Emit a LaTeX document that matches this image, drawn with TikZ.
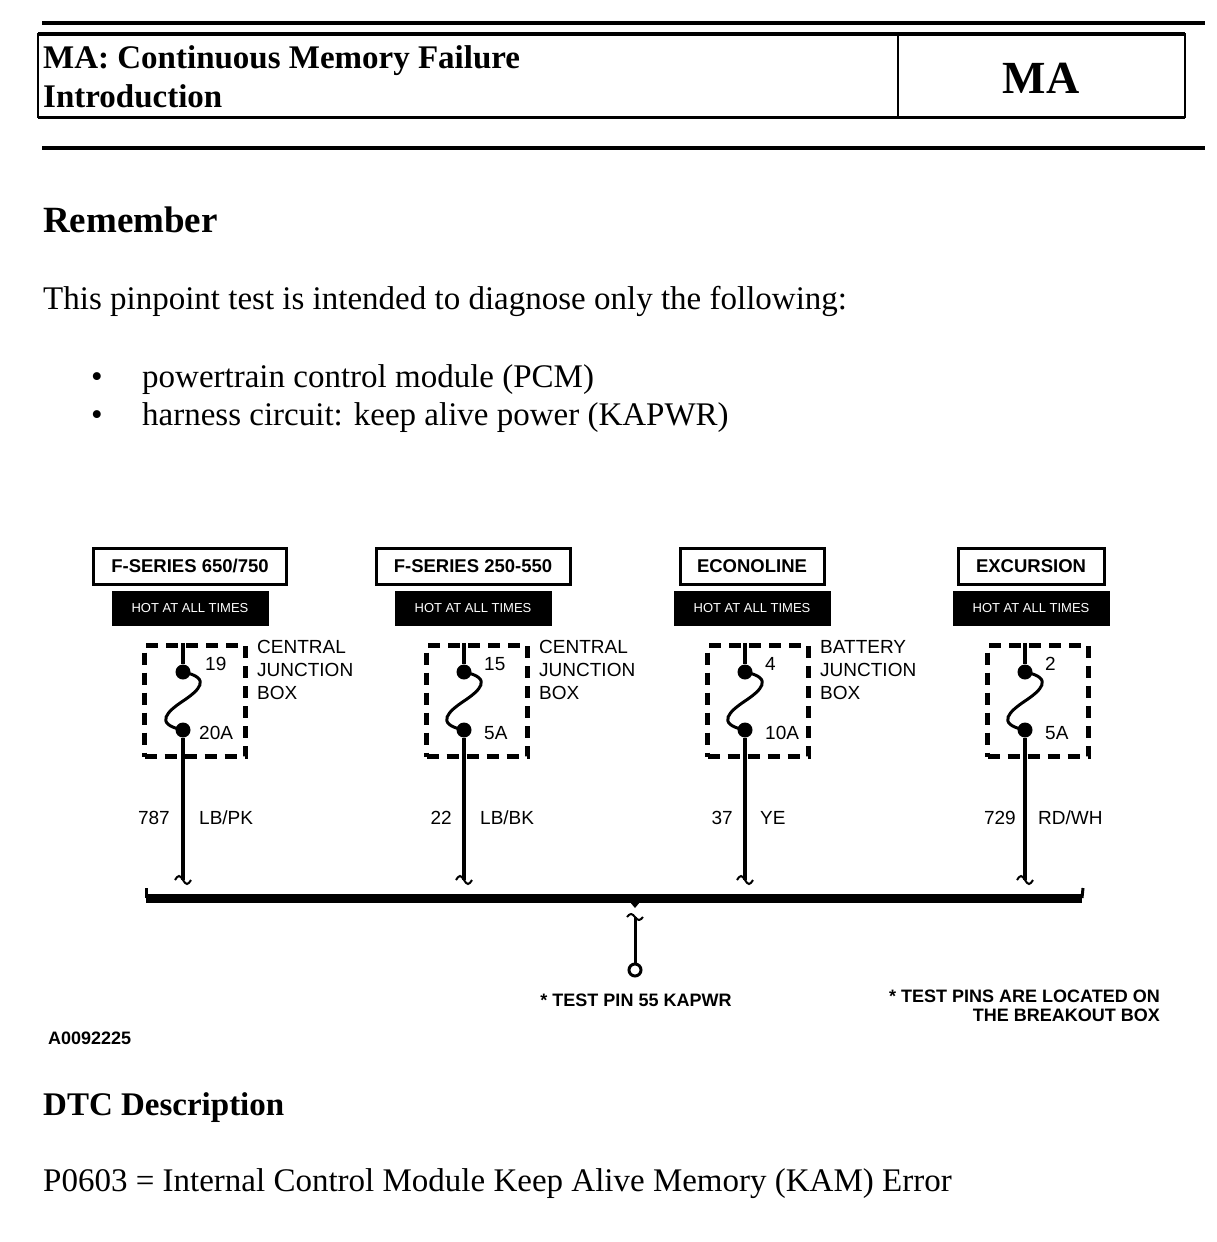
\documentclass[tikz,border=0pt]{standalone}
\usepackage{fontspec}
\setmainfont{Liberation Serif}
\setsansfont{Liberation Sans}
\usetikzlibrary{positioning}

\begin{document}
\begin{tikzpicture}[
    x=1pt, y=-1pt,
    node distance=5pt,
    model/.style={draw, line width=3pt, inner sep=0pt, minimum height=36pt,
        font=\sffamily\bfseries\fontsize{18.5}{20}\selectfont},
    hot/.style={fill=black, text=white, inner sep=0pt, minimum width=157pt, minimum height=35pt,
        font=\sffamily\fontsize{13}{14}\selectfont},
    jbox/.style={draw, dash pattern=on 12pt off 8pt, line width=5pt,
        minimum width=101pt, minimum height=111pt},
    wire/.style={draw, line width=4pt},
    fuse/.style={draw, line width=3pt},
    brk/.style={draw, line width=2pt},
    fusedot/.style={circle, fill=black, minimum size=15pt, inner sep=0pt},
    lbl/.style={font=\sffamily\fontsize{19}{23}\selectfont, inner sep=0pt},
    heading/.style={font=\bfseries\fontsize{33}{38}\selectfont, anchor=base west, inner sep=0pt},
    body/.style={font=\fontsize{33}{38}\selectfont, anchor=base west, inner sep=0pt},
    note/.style={font=\sffamily\bfseries\fontsize{18}{19}\selectfont, inner sep=0pt}
]
    \useasboundingbox[fill=white] (0,0) rectangle (1216,1242);

    % page header
    \draw[line width=4pt] (42,23) -- (1205,23);
    \draw[line width=2pt] (38,34) rectangle (1185,117);
    \draw[line width=4pt] (38,34) -- (1185,34);
    \draw[line width=3pt] (38,117) -- (1185,117);
    \draw[line width=2pt] (898,34) -- (898,117);
    \draw[line width=4pt] (42,148) -- (1205,148);
    \node[heading] (title) at (43,68) {MA: Continuous Memory Failure};
    \node[heading] (intro) at (43,107) {Introduction};
    \node[font=\bfseries\fontsize{46}{50}\selectfont] (tag) at (1041,78) {MA};

    % text above the diagram
    \node[heading, font=\bfseries\fontsize{37}{40}\selectfont] (remember) at (43,232) {Remember};
    \node[body] (intended) at (43,309) {This pinpoint test is intended to diagnose only the following:};
    \node[body, anchor=base] (dot1) at (97,387) {\textbullet};
    \node[body] (item1) at (142,387) {powertrain control module (PCM)};
    \node[body, anchor=base] (dot2) at (97,425) {\textbullet};
    \node[body] (item2) at (142,425) {harness circuit: keep alive power (KAPWR)};

    % F-Series 650/750
    \node[model, minimum width=193pt] (model1) at (190,566) {F-SERIES 650/750};
    \node[hot, below=of model1] (hot1) {HOT AT ALL TIMES};
    \node[jbox] (box1) at (195,701) {};
    \node[fusedot] (top1) at (183,672) {};
    \node[fusedot] (bot1) at (183,730) {};
    \coordinate (end1) at (183,880);
    \draw[wire] (box1.north -| top1) -- (top1);
    \draw[fuse] (top1.center) .. controls +(30,6) and +(15,-10) .. ++(0,29)
        .. controls +(-15,10) and +(-30,-6) .. (bot1.center);
    \draw[wire] (bot1) -- (end1);
    \draw[brk] (end1) ++(-8,0) sin ++(4,-4) cos ++(4,4) sin ++(4,4) cos ++(4,-4);
    \node[lbl, anchor=west] (pin1) at (205,664) {19};
    \node[lbl, anchor=west] (amp1) at (199,733) {20A};
    \node[lbl, align=left, anchor=north west] (jb1) at (257,640) {CENTRAL\\JUNCTION\\BOX};
    \node[lbl, anchor=east] (circ1) at (170,818) {787};
    \node[lbl, anchor=west] (color1) at (199,818) {LB/PK};

    % F-Series 250-550
    \node[model, minimum width=194pt] (model2) at (473,566) {F-SERIES 250-550};
    \node[hot, below=of model2] (hot2) {HOT AT ALL TIMES};
    \node[jbox] (box2) at (477,701) {};
    \node[fusedot] (top2) at (464,672) {};
    \node[fusedot] (bot2) at (464,730) {};
    \coordinate (end2) at (464,880);
    \draw[wire] (box2.north -| top2) -- (top2);
    \draw[fuse] (top2.center) .. controls +(30,6) and +(15,-10) .. ++(0,29)
        .. controls +(-15,10) and +(-30,-6) .. (bot2.center);
    \draw[wire] (bot2) -- (end2);
    \draw[brk] (end2) ++(-8,0) sin ++(4,-4) cos ++(4,4) sin ++(4,4) cos ++(4,-4);
    \node[lbl, anchor=west] (pin2) at (484,664) {15};
    \node[lbl, anchor=west] (amp2) at (484,733) {5A};
    \node[lbl, align=left, anchor=north west] (jb2) at (539,640) {CENTRAL\\JUNCTION\\BOX};
    \node[lbl, anchor=east] (circ2) at (452,818) {22};
    \node[lbl, anchor=west] (color2) at (480,818) {LB/BK};

    % Econoline
    \node[model, minimum width=144pt] (model3) at (752,566) {ECONOLINE};
    \node[hot, below=of model3] (hot3) {HOT AT ALL TIMES};
    \node[jbox] (box3) at (758,701) {};
    \node[fusedot] (top3) at (745,672) {};
    \node[fusedot] (bot3) at (745,730) {};
    \coordinate (end3) at (745,880);
    \draw[wire] (box3.north -| top3) -- (top3);
    \draw[fuse] (top3.center) .. controls +(30,6) and +(15,-10) .. ++(0,29)
        .. controls +(-15,10) and +(-30,-6) .. (bot3.center);
    \draw[wire] (bot3) -- (end3);
    \draw[brk] (end3) ++(-8,0) sin ++(4,-4) cos ++(4,4) sin ++(4,4) cos ++(4,-4);
    \node[lbl, anchor=west] (pin3) at (765,664) {4};
    \node[lbl, anchor=west] (amp3) at (765,733) {10A};
    \node[lbl, align=left, anchor=north west] (jb3) at (820,640) {BATTERY\\JUNCTION\\BOX};
    \node[lbl, anchor=east] (circ3) at (733,818) {37};
    \node[lbl, anchor=west] (color3) at (760,818) {YE};

    % Excursion
    \node[model, minimum width=146pt] (model4) at (1031,566) {EXCURSION};
    \node[hot, below=of model4] (hot4) {HOT AT ALL TIMES};
    \node[jbox] (box4) at (1038,701) {};
    \node[fusedot] (top4) at (1025,672) {};
    \node[fusedot] (bot4) at (1025,730) {};
    \coordinate (end4) at (1025,880);
    \draw[wire] (box4.north -| top4) -- (top4);
    \draw[fuse] (top4.center) .. controls +(30,6) and +(15,-10) .. ++(0,29)
        .. controls +(-15,10) and +(-30,-6) .. (bot4.center);
    \draw[wire] (bot4) -- (end4);
    \draw[brk] (end4) ++(-8,0) sin ++(4,-4) cos ++(4,4) sin ++(4,4) cos ++(4,-4);
    \node[lbl, anchor=west] (pin4) at (1045,664) {2};
    \node[lbl, anchor=west] (amp4) at (1045,733) {5A};
    \node[lbl, anchor=east] (circ4) at (1016,818) {729};
    \node[lbl, anchor=west] (color4) at (1038,818) {RD/WH};

    % splice bar and test pin
    \coordinate (busL) at (146,898);
    \coordinate (busR) at (1082,898);
    \coordinate (tap) at (635,898);
    \coordinate (tapend) at (635,917);
    \draw[line width=9pt] (busL) -- (busR);
    \draw[line width=3pt] (busL) -- ++(0,-10);
    \draw[line width=3pt] (busR) -- ++(1,-10);
    \fill (tap) ++(-5,4) -- ++(10,0) -- ++(-5,6) -- cycle;
    \draw[brk] (tapend) ++(-8,0) sin ++(4,-3) cos ++(4,3) sin ++(4,3) cos ++(4,-3);
    \node[circle, draw, line width=3pt, minimum size=12pt, inner sep=0pt] (testpin) at (635,970) {};
    \draw[line width=3pt] (tapend) -- (testpin);
    \node[note, anchor=base] (pinnote) at (636,1006) {* TEST PIN 55 KAPWR};
    \node[note, align=right, anchor=north east] (breakout) at (1160,990) {* TEST PINS ARE LOCATED ON\\THE BREAKOUT BOX};
    \node[note, anchor=base west] (figno) at (48,1044) {A0092225};

    % text below the diagram
    \node[heading] (dtc) at (43,1115) {DTC Description};
    \node[body] (p0603) at (43,1191) {P0603 = Internal Control Module Keep Alive Memory (KAM) Error};
\end{tikzpicture}
\end{document}
